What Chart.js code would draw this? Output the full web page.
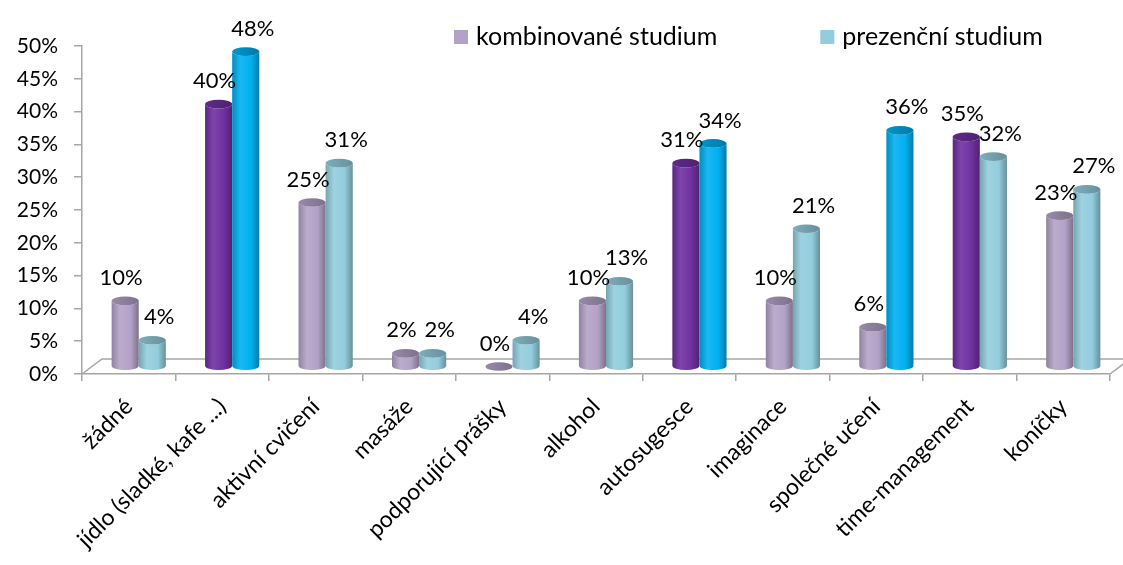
<!DOCTYPE html>
<html>
<head>
<meta charset="utf-8">
<script src="https://cdn.jsdelivr.net/npm/chart.js@4.4.0/dist/chart.umd.min.js"></script>
<style>
  html, body { margin: 0; padding: 0; background: #fff; }
  #obal { width: 1123px; height: 565px; position: relative; }
</style>
</head>
<body>
<div id="obal"><canvas id="graf"></canvas></div>
<script>
// kategorie a hodnoty (v %)
var kategorie = [
  "žádné", "jídlo (sladké, kafe ...)", "aktivní cvičení", "masáže",
  "podporující prášky", "alkohol", "autosugesce", "imaginace",
  "společné učení", "time-management", "koníčky"
];
var kombinovane = [10, 40, 25, 2, 0, 10, 31, 10, 6, 35, 23];
var prezencni = [4, 48, 31, 2, 4, 13, 34, 21, 36, 32, 27];

// zvýrazněné sloupce (indexy kategorií)
var kombinovaneZvyraznene = [1, 6, 9];
var prezencniZvyraznene = [1, 6, 8];

var osaY = { min: 0, max: 50, krok: 5 };

var barvy = {
  komb: "#b3a2c7", kombSyta: "#7030a0",
  prez: "#93cddd", prezSyta: "#00b0f0"
};

var PISMO = "Lato, 'Open Sans', sans-serif";
var HLOUBKA_X = 20, HLOUBKA_Y = 15; // 3D podlaha

function barvySloupcu(hodnoty, zvyraznene, zakladni, syta) {
  return hodnoty.map(function (v, i) {
    return zvyraznene.indexOf(i) >= 0 ? syta : zakladni;
  });
}

// ztmavení / zesvětlení barvy
function odstin(hex, k) {
  var r = parseInt(hex.substr(1, 2), 16),
      g = parseInt(hex.substr(3, 2), 16),
      b = parseInt(hex.substr(5, 2), 16);
  function f(c) {
    return Math.round(k < 0 ? c * (1 + k) : c + (255 - c) * k);
  }
  return "rgb(" + f(r) + "," + f(g) + "," + f(b) + ")";
}

// válec: tělo s přechodem + horní elipsa
function valec(ctx, cx, vrch, zaklad, w, barva) {
  var rx = w / 2, ry = w * 0.16;
  var g = ctx.createLinearGradient(cx - rx, 0, cx + rx, 0);
  g.addColorStop(0, odstin(barva, -0.2));
  g.addColorStop(0.3, odstin(barva, 0.1));
  g.addColorStop(0.7, barva);
  g.addColorStop(1, odstin(barva, -0.3));
  ctx.beginPath();
  ctx.moveTo(cx - rx, vrch);
  ctx.lineTo(cx - rx, zaklad);
  ctx.ellipse(cx, zaklad, rx, ry, 0, Math.PI, 0, true);
  ctx.lineTo(cx + rx, vrch);
  ctx.ellipse(cx, vrch, rx, ry, 0, 0, Math.PI, false);
  ctx.closePath();
  ctx.fillStyle = g;
  ctx.fill();

  var gv = ctx.createLinearGradient(cx - rx, 0, cx + rx, 0);
  gv.addColorStop(0, odstin(barva, -0.15));
  gv.addColorStop(1, odstin(barva, -0.3));
  ctx.beginPath();
  ctx.ellipse(cx, vrch, rx, ry, 0, 0, Math.PI * 2);
  ctx.fillStyle = gv;
  ctx.fill();
}

var valcePlugin = {
  id: "valce",
  beforeDatasetsDraw: function (chart) {
    var ctx = chart.ctx, a = chart.chartArea;
    // podlaha
    ctx.save();
    ctx.strokeStyle = "#a6a6a6";
    ctx.lineWidth = 1.5;
    ctx.beginPath();
    ctx.moveTo(a.left, a.bottom);
    ctx.lineTo(a.left + HLOUBKA_X, a.bottom - HLOUBKA_Y);
    ctx.lineTo(a.right + HLOUBKA_X, a.bottom - HLOUBKA_Y);
    ctx.moveTo(a.right, a.bottom);
    ctx.lineTo(a.right + HLOUBKA_X, a.bottom - HLOUBKA_Y);
    ctx.stroke();

    var dx = HLOUBKA_X / 2, dy = -HLOUBKA_Y / 2;
    chart.data.datasets.forEach(function (ds, di) {
      var meta = chart.getDatasetMeta(di);
      meta.data.forEach(function (el, i) {
        var p = el.getProps(["x", "y", "base", "width"], true);
        valec(ctx, p.x + dx, p.y + dy, p.base + dy, p.width, ds.backgroundColor[i]);
      });
    });
    ctx.restore();
    return false;
  },
  afterDraw: function (chart) {
    var ctx = chart.ctx, a = chart.chartArea;
    var dx = HLOUBKA_X / 2, dy = -HLOUBKA_Y / 2;
    ctx.save();
    // popisky hodnot
    ctx.font = "22px " + PISMO;
    ctx.fillStyle = "#000";
    ctx.textAlign = "center";
    ctx.textBaseline = "middle";
    chart.data.datasets.forEach(function (ds, di) {
      var meta = chart.getDatasetMeta(di);
      var posun = di === 0 ? -4 : 7;
      meta.data.forEach(function (el, i) {
        var p = el.getProps(["x", "y"], true);
        ctx.fillText(ds.data[i] + "%", p.x + dx + posun, p.y + dy - 23);
      });
    });

    // legenda
    ctx.font = "25px " + PISMO;
    ctx.textAlign = "left";
    var x = a.left + 372, y = 37;
    chart.data.datasets.forEach(function (ds) {
      ctx.fillStyle = ds.barvaLegendy;
      ctx.fillRect(x, y - 7, 14, 14);
      ctx.fillStyle = "#000";
      ctx.fillText(ds.label, x + 22, y);
      x += 22 + ctx.measureText(ds.label).width + 103;
    });
    ctx.restore();
  }
};

var ctx = document.getElementById("graf").getContext("2d");
var graf = new Chart(ctx, {
  type: "bar",
  data: {
    labels: kategorie,
    datasets: [
      {
        label: "kombinované studium",
        data: kombinovane,
        backgroundColor: barvySloupcu(kombinovane, kombinovaneZvyraznene, barvy.komb, barvy.kombSyta),
        barvaLegendy: barvy.komb
      },
      {
        label: "prezenční studium",
        data: prezencni,
        backgroundColor: barvySloupcu(prezencni, prezencniZvyraznene, barvy.prez, barvy.prezSyta),
        barvaLegendy: barvy.prez
      }
    ]
  },
  options: {
    responsive: true,
    maintainAspectRatio: false,
    animation: false,
    datasets: { bar: { categoryPercentage: 0.58, barPercentage: 1 } },
    layout: { padding: { top: 46, right: 13, left: 0, bottom: 0 } },
    plugins: { legend: { display: false }, tooltip: { enabled: false } },
    scales: {
      x: {
        grid: {
          drawOnChartArea: false, drawTicks: true, tickLength: 7,
          color: "#a6a6a6", lineWidth: 1.5
        },
        border: { color: "#a6a6a6", width: 1.5 },
        ticks: {
          autoSkip: false, maxRotation: 45, minRotation: 45,
          color: "#000", font: { family: PISMO, size: 23 }, padding: 12
        },
        afterFit: function (s) { s.height = 191; }
      },
      y: {
        min: osaY.min, max: osaY.max,
        grid: {
          drawOnChartArea: false, drawTicks: true, tickLength: 8,
          color: "#a6a6a6", lineWidth: 1.5
        },
        border: { color: "#a6a6a6", width: 1.5 },
        ticks: {
          stepSize: osaY.krok,
          color: "#000", font: { family: PISMO, size: 21 }, padding: 16,
          callback: function (v) { return v + "%"; }
        },
        afterFit: function (s) { s.width = 82; }
      }
    }
  },
  plugins: [valcePlugin]
});
</script>
</body>
</html>
